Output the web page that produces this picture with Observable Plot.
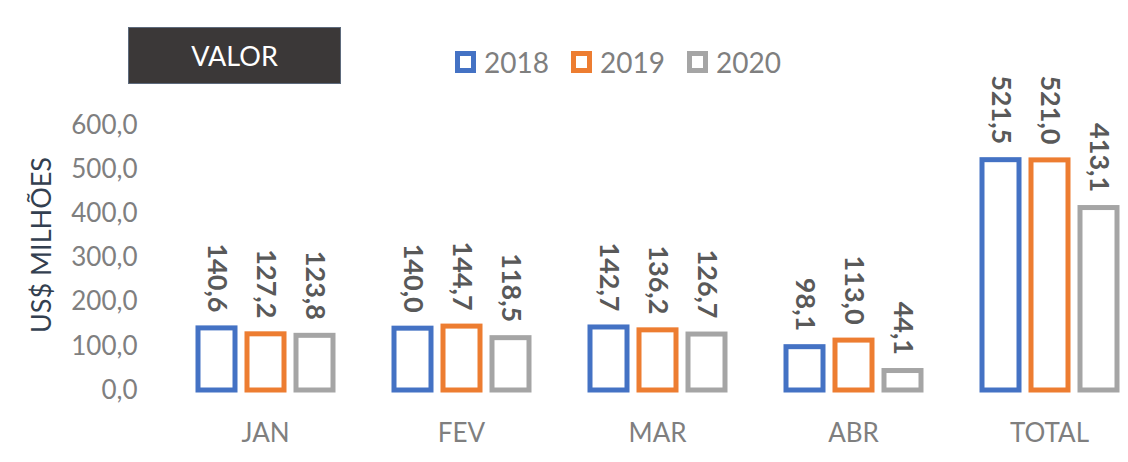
<!DOCTYPE html>
<html>
<head>
<meta charset="utf-8">
<script src="https://cdn.jsdelivr.net/npm/d3@7"></script>
<script src="https://cdn.jsdelivr.net/npm/@observablehq/plot@0.6"></script>
<style>
  html, body { margin: 0; padding: 0; background: #fff; }
  #wrap { position: relative; width: 1128px; height: 462px; overflow: hidden; font-family: Lato, "Open Sans", sans-serif; }
  #title { position: absolute; left: 128px; top: 27px; width: 211px; height: 55px; background: #3b3838; border: 1px solid #5d6a7c;
           color: #fff; font-size: 27px; line-height: 55px; text-align: center; }
  #legend { position: absolute; left: 455px; top: 45px; display: flex; align-items: center; font-size: 28px; color: #7f7f7f; }
  .item { display: flex; align-items: center; margin-right: 22px; }
  .sw { width: 11px; height: 12px; border: 5px solid; margin-right: 8px; background: #fff; }
  #ylab { position: absolute; left: 40px; top: 245px; transform: translate(-50%, -50%) rotate(-90deg); white-space: nowrap;
          font-size: 27px; color: #333f50; }
</style>
</head>
<body>
<div id="wrap">
  <div id="chart"></div>
  <div id="title">VALOR</div>
  <div id="legend"></div>
  <div id="ylab">US$ MILHÕES</div>
</div>
<script>
const months = ["JAN", "FEV", "MAR", "ABR", "TOTAL"];
const years = ["2018", "2019", "2020"];
const v2018 = [140.6, 140.0, 142.7, 98.1, 521.5];
const v2019 = [127.2, 144.7, 136.2, 113.0, 521.0];
const v2020 = [123.8, 118.5, 126.7, 44.1, 413.1];
const yTicks = [0, 100, 200, 300, 400, 500, 600];
const colors = ["#4472c4", "#ed7d31", "#a5a5a5"];

const series = [v2018, v2019, v2020];
const data = [];
months.forEach((m, i) => years.forEach((y, j) => data.push({ month: m, year: y, value: series[j][i] })));
const fmt = v => v.toFixed(1).replace(".", ",");

const chart = Plot.plot({
  width: 1128,
  height: 462,
  marginTop: 125,
  marginBottom: 72,
  marginLeft: 167,
  marginRight: 0,
  style: { fontFamily: "Lato, 'Open Sans', sans-serif", fontSize: "26px", color: "#7f7f7f", background: "#fff" },
  fx: { domain: months, range: [167, 1147], padding: 0, axis: "bottom", tickSize: 0, tickPadding: 33, label: null },
  x: { domain: years, paddingInner: 0.25, paddingOuter: 0.605, axis: null },
  y: { domain: [0, 600], ticks: yTicks, tickFormat: fmt, tickSize: 0, tickPadding: 30, label: null },
  color: { domain: years, range: colors },
  marks: [
    Plot.barY(data, { fx: "month", x: "year", y: "value", fill: "#fff", stroke: "year", strokeWidth: 5 }),
    Plot.text(data, { fx: "month", x: "year", y: "value", text: d => fmt(d.value), rotate: 90, textAnchor: "end",
                      dy: -16, fill: "#595959", fontWeight: "bold", fontSize: 27 })
  ]
});
document.getElementById("chart").appendChild(chart);

const legend = document.getElementById("legend");
years.forEach((y, j) => {
  const it = document.createElement("div");
  it.className = "item";
  const sw = document.createElement("div");
  sw.className = "sw";
  sw.style.borderColor = colors[j];
  const t = document.createElement("span");
  t.textContent = y;
  it.appendChild(sw); it.appendChild(t);
  legend.appendChild(it);
});
</script>
</body>
</html>
